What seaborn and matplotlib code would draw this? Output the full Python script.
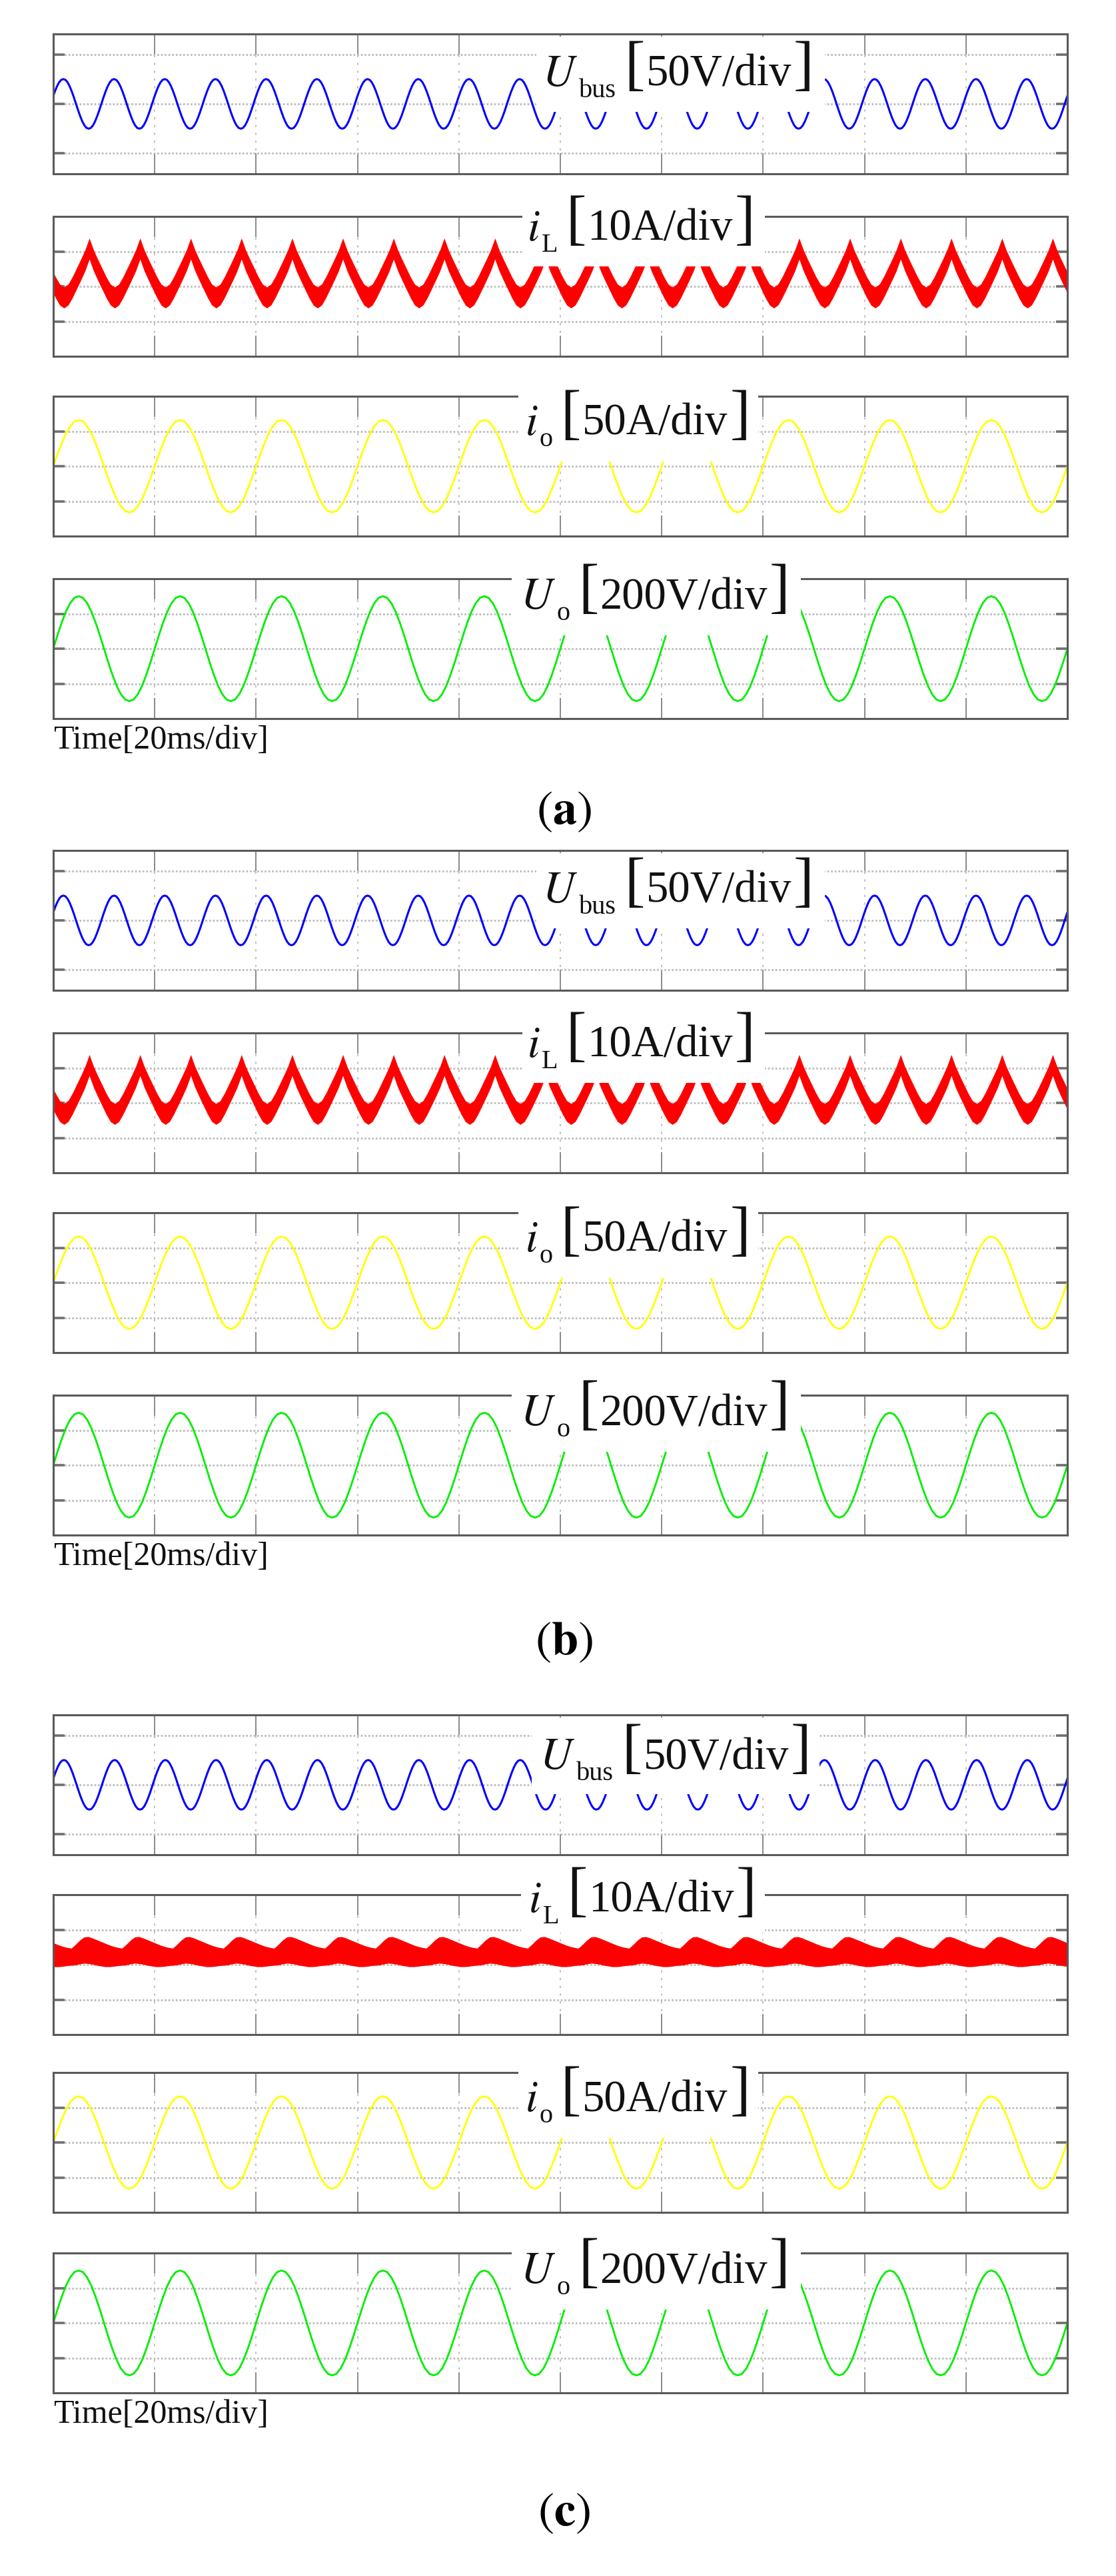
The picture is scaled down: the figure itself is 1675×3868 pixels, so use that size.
import numpy as np
import pandas as pd
import matplotlib
matplotlib.use('Agg')
import matplotlib.pyplot as plt
from matplotlib.patches import Rectangle
import seaborn as sns

sns.set_theme(style='white')
plt.rcParams['font.family'] = ['Liberation Serif', 'DejaVu Serif']
plt.rcParams['mathtext.fontset'] = 'stix'

W, H, DPI = 1675, 3868, 100
X0, X1 = 80, 1602          # plot area left / right edge (px)
N_DIV = 10                 # 10 time divisions, 20 ms/div

# ---- data (unit = one vertical division) ----
panel_names = ['a', 'b', 'c']

# one cycle of the sinusoidal traces, 24 equal steps from a rising zero crossing
sine_cycle = [0.00, 0.26, 0.50, 0.71, 0.87, 0.97, 1.00, 0.97, 0.87, 0.71, 0.50, 0.26,
              0.00, -0.26, -0.50, -0.71, -0.87, -0.97, -1.00, -0.97, -0.87, -0.71, -0.50, -0.26]

# Ubus: 100 Hz ripple (period 0.5 div)
ubus_amp = [0.50, 0.50, 0.50]
ubus_start = [-0.026, -0.026, -0.020]   # rising zero crossing (div)
ubus_period = 0.5

# io / Uo: 50 Hz (period 1 div), starting at zero crossing at left edge
io_amp = [1.32, 1.32, 1.32]
uo_amp = [1.50, 1.50, 1.50]
out_start = [0.0, 0.0, 0.0]
out_period = 1.0

# iL in (a), (b): ripple band, centre line cycle from trough (12 steps)
il_cycle = [-1.00, -0.88, -0.58, -0.22, 0.14, 0.52, 1.00, 0.52, 0.14, -0.22, -0.58, -0.88]
il_mean = [0.38, 0.38]
il_amp = [0.70, 0.70]
il_half = [0.30, 0.30]
il_start = [0.105, 0.105]
il_period = 0.5

# iL in (c): upper / lower edges of the noisy band (12 steps from hump trough)
ilc_upper = [0.47, 0.58, 0.70, 0.79, 0.80, 0.76, 0.71, 0.66, 0.61, 0.56, 0.52, 0.49]
ilc_lower = [-0.02, -0.01, 0.02, 0.04, 0.03, 0.01, -0.02, -0.04, -0.06, -0.06, -0.05, -0.03]
ilc_start = 0.178

# channel labels: symbol, subscript, scale
label_sym = ['U', 'i', 'i', 'U']
label_sub = ['bus', 'L', 'o', 'o']
label_unit = ['50V/div', '10A/div', '50A/div', '200V/div']
colors = ['#0000ff', '#ff0000', '#ffff00', '#00ee00']
ylims = [1.41, 2.0, 2.0, 2.0]
time_label = 'Time[20ms/div]'

# ---- layout (px) ----
axes_tops = [[51, 325, 595, 869], [1277, 1551, 1821, 2095], [2575, 2845, 3112, 3383]]
ax_h = 210
caption_y = [1220, 2467, 3775]
# masks behind labels: x0, x1, top, bottom relative to axes top
masks = [
    [(805, 1238, 4, 117), (784, 1148, -35, 75), (778, 1138, -12, 98), (768, 1202, -22, 85)],
    [(805, 1238, 4, 117), (784, 1148, -35, 75), (778, 1138, -12, 98), (768, 1202, -22, 85)],
    [(798, 1230, 4, 119), (782, 1148, -35, 57), (778, 1138, -12, 98), (768, 1202, -22, 85)],
]
# label centre x and baseline y (relative to axes top)
text_pos = [
    [(1018, 78), (962, 36), (957, 58), (983, 45)],
    [(1018, 78), (962, 36), (957, 58), (983, 45)],
    [(1014, 81), (964, 26), (957, 58), (983, 45)],
]


def tile_cycle(cycle, period, start):
    n = len(cycle)
    first = start - np.ceil(start / period) * period
    n_cyc = int(np.ceil((N_DIV - first) / period)) + 1
    t = first + np.arange(n_cyc * n + 1) * period / n
    v = np.tile(cycle, n_cyc + 1)[:len(t)]
    return t, v


def style_axes(ax, ylim):
    ax.set_xlim(0, N_DIV)
    ax.set_ylim(-ylim, ylim)
    ax.set_facecolor('white')
    ax.set_xticks(range(1, N_DIV))
    ax.set_yticks([-1, 0, 1])
    ax.set_xticklabels([])
    ax.set_yticklabels([])
    ax.grid(axis='y', color='#bdbdbd', lw=2.0, ls=(0, (1, 1)))
    ax.grid(axis='x', color='#b5b5b5', lw=1.2, ls=(0, (2, 5)))
    ax.tick_params(axis='x', direction='in', length=22, width=1.4, color='#8a8a8a',
                   top=True, bottom=True)
    ax.tick_params(axis='y', direction='in', length=12, width=2.6, color='#707070',
                   left=True, right=True)
    for s in ax.spines.values():
        s.set_color('#5a5a5a')
        s.set_linewidth(2.2)
    ax.set_xlabel('')
    ax.set_ylabel('')


fig = plt.figure(figsize=(W / DPI, H / DPI), dpi=DPI)
renderer = fig.canvas.get_renderer()


def draw_label(cx, base, sym, sub, unit):
    # pieces: text, font size, baseline drop (px), gap after (px)
    pieces = [('$%s$' % sym, 48, 0, 2), (sub, 29, 17, 12), ('[', 66, -4, 2),
              (unit, 48, 0, 3), (']', 66, -4, 0)]
    arts, total = [], 0
    for txt, fs, drop, gap in pieces:
        a = fig.text(0, 1 - (base + drop) / H, txt, fontsize=fs, ha='left',
                     va='baseline', color='#111111', zorder=3)
        w = a.get_window_extent(renderer).width
        arts.append((a, w, gap))
        total += w + gap
    x = cx - total / 2
    for a, w, gap in arts:
        a.set_x(x / W)
        x += w + gap


for p, name in enumerate(panel_names):
    for k in range(4):
        top = axes_tops[p][k]
        ax = fig.add_axes([X0 / W, 1 - (top + ax_h) / H, (X1 - X0) / W, ax_h / H])

        if k == 0:
            t, v = tile_cycle(sine_cycle, ubus_period, ubus_start[p])
            df = pd.DataFrame({'t': t, 'v': v * ubus_amp[p]})
            sns.lineplot(data=df, x='t', y='v', ax=ax, color=colors[0], lw=2.2,
                         sort=False, estimator=None)
        elif k == 1:
            if p < 2:
                t, v = tile_cycle(il_cycle, il_period, il_start[p])
                c = il_mean[p] + il_amp[p] * v
                ax.fill_between(t, c - il_half[p], c + il_half[p], color=colors[1], lw=0)
            else:
                t, up = tile_cycle(ilc_upper, il_period, ilc_start)
                _, lo = tile_cycle(ilc_lower, il_period, ilc_start)
                ax.fill_between(t, lo, up, color=colors[1], lw=0)
        else:
            amp = io_amp[p] if k == 2 else uo_amp[p]
            t, v = tile_cycle(sine_cycle, out_period, out_start[p])
            df = pd.DataFrame({'t': t, 'v': v * amp})
            sns.lineplot(data=df, x='t', y='v', ax=ax, color=colors[k], lw=2.0,
                         sort=False, estimator=None)

        style_axes(ax, ylims[k])

        # white box behind the channel label
        x0, x1, r0, r1 = masks[p][k]
        fig.add_artist(Rectangle((x0 / W, 1 - (top + r1) / H), (x1 - x0) / W, (r1 - r0) / H,
                                 transform=fig.transFigure, fc='white', ec='none', zorder=1))
        tx, ty = text_pos[p][k]
        draw_label(tx, top + ty, label_sym[k], label_sub[k], label_unit[k])

    bottom = axes_tops[p][3] + ax_h
    fig.text(X0 / W, 1 - (bottom + 33) / H, time_label, ha='left', va='center',
             fontsize=36, color='#111111')
    fig.text(846 / W, 1 - caption_y[p] / H, r'$(\mathbf{%s})$' % name, ha='center',
             va='center', fontsize=52, color='black')

fig.savefig('out.png', dpi=DPI, facecolor='white')
